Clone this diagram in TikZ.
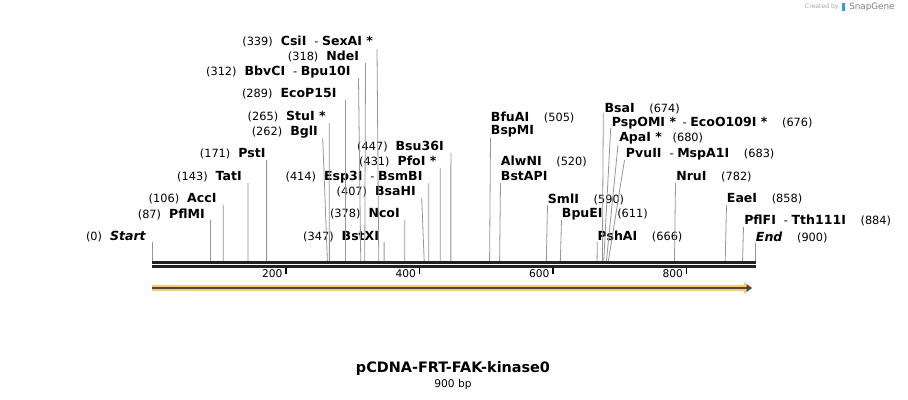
\documentclass[tikz,border=0pt]{standalone}
\usepackage{fontspec}
\setmainfont{DejaVu Sans}
\usepackage{tikz}
\usetikzlibrary{positioning}
\usetikzlibrary{arrows.meta}
\definecolor{cutgray}{RGB}{150,150,150}
\definecolor{axisblack}{RGB}{34,34,34}
\definecolor{featorange}{RGB}{248,202,120}
\definecolor{featdark}{RGB}{80,70,55}
\definecolor{sgblue}{RGB}{60,150,220}
\newcommand{\enzy}[1]{{\fontsize{9.4}{10}\selectfont\bfseries #1}}

\begin{document}
\begin{tikzpicture}
    [
    x=0.75pt, y=-0.75pt,
    enz/.style={inner sep=0pt, font=\fontsize{8.5}{10}\selectfont},
    cut/.style={draw=cutgray, line width=0.6pt},
    axis/.style={draw=axisblack, line width=2pt},
    tick/.style={draw=black, line width=1.2pt},
    ticklabel/.style={inner sep=0pt, anchor=east, font=\fontsize{8}{9}\selectfont}
    ]
    \useasboundingbox (0,0) rectangle (908,400);
    \fill [white] (0,0) rectangle (908,400);

    % enzymes written to the left of their cut
    \node (start) at (146,237) [enz, anchor=east] {(0)\hspace{6pt}\enzy{\itshape Start}};
    \node (pflMI) at (205,214) [enz, anchor=east] {(87)\hspace{6pt}\enzy{PflMI}};
    \node (accI) at (216.7,199) [enz, anchor=east] {(106)\hspace{6pt}\enzy{AccI}};
    \node (tatI) at (242,176.7) [enz, anchor=east] {(143)\hspace{6pt}\enzy{TatI}};
    \node (pstI) at (265.7,154) [enz, anchor=east] {(171)\hspace{6pt}\enzy{PstI}};
    \node (bglI) at (318,131.7) [enz, anchor=east] {(262)\hspace{6pt}\enzy{BglI}};
    \node (stuI) at (326,116.7) [enz, anchor=east] {(265)\hspace{6pt}\enzy{StuI *}};
    \node (ecoP15I) at (336.7,93.3) [enz, anchor=east] {(289)\hspace{6pt}\enzy{EcoP15I}};
    \node (bbvCI) at (350.7,71.7) [enz, anchor=east] {(312)\hspace{6pt}\enzy{BbvCI}\hspace{6pt}- \enzy{Bpu10I}};
    \node (ndeI) at (359.3,56) [enz, anchor=east] {(318)\hspace{6pt}\enzy{NdeI}};
    \node (csiI) at (373.3,41.7) [enz, anchor=east] {(339)\hspace{6pt}\enzy{CsiI}\hspace{6pt}- \enzy{SexAI *}};
    \node (bstXI) at (379.3,236.7) [enz, anchor=east] {(347)\hspace{6pt}\enzy{BstXI}};
    \node (ncoI) at (400,213.3) [enz, anchor=east] {(378)\hspace{6pt}\enzy{NcoI}};
    \node (bsaHI) at (416,191.7) [enz, anchor=east] {(407)\hspace{6pt}\enzy{BsaHI}};
    \node (esp3I) at (422.7,176.7) [enz, anchor=east] {(414)\hspace{6pt}\enzy{Esp3I}\hspace{6pt}- \enzy{BsmBI}};
    \node (pfoI) at (436.7,161.7) [enz, anchor=east] {(431)\hspace{6pt}\enzy{PfoI *}};
    \node (bsu36I) at (444,146.7) [enz, anchor=east] {(447)\hspace{6pt}\enzy{Bsu36I}};

    % enzymes written to the right of their cut
    \node (bfuAI) at (490.7,117.3) [enz, anchor=west] {\enzy{BfuAI}\hspace{11pt}(505)};
    \node (bspMI) at (490.7,131.7) [enz, anchor=west] {\enzy{BspMI}};
    \node (alwNI) at (500.7,161.7) [enz, anchor=west] {\enzy{AlwNI}\hspace{11pt}(520)};
    \node (bstAPI) at (500.7,176) [enz, anchor=west] {\enzy{BstAPI}};
    \node (smlI) at (547.7,199) [enz, anchor=west] {\enzy{SmlI}\hspace{11pt}(590)};
    \node (bpuEI) at (561.7,214) [enz, anchor=west] {\enzy{BpuEI}\hspace{11pt}(611)};
    \node (pshAI) at (597.3,236.7) [enz, anchor=west] {\enzy{PshAI}\hspace{11pt}(666)};
    \node (bsaI) at (604.3,108.3) [enz, anchor=west] {\enzy{BsaI}\hspace{11pt}(674)};
    \node (pspOMI) at (611.7,123.3) [enz, anchor=west] {\enzy{PspOMI *}\hspace{5pt}- \enzy{EcoO109I *}\hspace{11pt}(676)};
    \node (apaI) at (619,138.3) [enz, anchor=west] {\enzy{ApaI *}\hspace{8pt}(680)};
    \node (pvuII) at (625.7,154.3) [enz, anchor=west] {\enzy{PvuII}\hspace{6pt}- \enzy{MspA1I}\hspace{11pt}(683)};
    \node (nruI) at (676,176.7) [enz, anchor=west] {\enzy{NruI}\hspace{11pt}(782)};
    \node (eaeI) at (726.7,199) [enz, anchor=west] {\enzy{EaeI}\hspace{11pt}(858)};
    \node (pflFI) at (744,220.7) [enz, anchor=west] {\enzy{PflFI}\hspace{6pt}- \enzy{Tth111I}\hspace{11pt}(884)};
    \node (end) at (755.7,237.3) [enz, anchor=west] {\enzy{\itshape End}\hspace{11pt}(900)};

    % cut lines: top of line and cut site on the sequence
    \coordinate (start-top) at (152.5,242);   \coordinate (start-site) at ({152.5+0.6675*0},261);
    \coordinate (pflMI-top) at (210.6,220);   \coordinate (pflMI-site) at ({152.5+0.6675*87},261);
    \coordinate (accI-top) at (223.3,205);    \coordinate (accI-site) at ({152.5+0.6675*106},261);
    \coordinate (tatI-top) at (248,183);      \coordinate (tatI-site) at ({152.5+0.6675*143},261);
    \coordinate (pstI-top) at (266.6,160);    \coordinate (pstI-site) at ({152.5+0.6675*171},261);
    \coordinate (bglI-top) at (322.7,138);    \coordinate (bglI-site) at ({152.5+0.6675*262},261);
    \coordinate (stuI-top) at (329.2,123);    \coordinate (stuI-site) at ({152.5+0.6675*265},261);
    \coordinate (ecoP15I-top) at (345.4,100); \coordinate (ecoP15I-site) at ({152.5+0.6675*289},261);
    \coordinate (bbvCI-top) at (358.5,78);    \coordinate (bbvCI-site) at ({152.5+0.6675*312},261);
    \coordinate (ndeI-top) at (365.5,63);     \coordinate (ndeI-site) at ({152.5+0.6675*318},261);
    \coordinate (csiI-top) at (377,49);       \coordinate (csiI-site) at ({152.5+0.6675*339},261);
    \coordinate (bstXI-top) at (384.1,242);   \coordinate (bstXI-site) at ({152.5+0.6675*347},261);
    \coordinate (ncoI-top) at (404.8,220);    \coordinate (ncoI-site) at ({152.5+0.6675*378},261);
    \coordinate (bsaHI-top) at (421.7,198);   \coordinate (bsaHI-site) at ({152.5+0.6675*407},261);
    \coordinate (esp3I-top) at (428.8,183);   \coordinate (esp3I-site) at ({152.5+0.6675*414},261);
    \coordinate (pfoI-top) at (440.2,168);    \coordinate (pfoI-site) at ({152.5+0.6675*431},261);
    \coordinate (bsu36I-top) at (450.9,153);  \coordinate (bsu36I-site) at ({152.5+0.6675*447},261);
    \coordinate (bfuAI-top) at (490.5,138);   \coordinate (bfuAI-site) at ({152.5+0.6675*505},261);
    \coordinate (alwNI-top) at (500.5,183);   \coordinate (alwNI-site) at ({152.5+0.6675*520},261);
    \coordinate (smlI-top) at (547.5,205);    \coordinate (smlI-site) at ({152.5+0.6675*590},261);
    \coordinate (bpuEI-top) at (561.5,220);   \coordinate (bpuEI-site) at ({152.5+0.6675*611},261);
    \coordinate (pshAI-top) at (597.3,242);   \coordinate (pshAI-site) at ({152.5+0.6675*666},261);
    \coordinate (bsaI-top) at (603.3,113);    \coordinate (bsaI-site) at ({152.5+0.6675*674},261);
    \coordinate (pspOMI-top) at (610.7,128);  \coordinate (pspOMI-site) at ({152.5+0.6675*676},261);
    \coordinate (apaI-top) at (618,145);      \coordinate (apaI-site) at ({152.5+0.6675*680},261);
    \coordinate (pvuII-top) at (624.5,160);   \coordinate (pvuII-site) at ({152.5+0.6675*683},261);
    \coordinate (nruI-top) at (675.5,183);    \coordinate (nruI-site) at ({152.5+0.6675*782},261);
    \coordinate (eaeI-top) at (726.5,205);    \coordinate (eaeI-site) at ({152.5+0.6675*858},261);
    \coordinate (pflFI-top) at (743.5,227);   \coordinate (pflFI-site) at ({152.5+0.6675*884},261);
    \coordinate (end-top) at (755,243);       \coordinate (end-site) at (755,261);

    \draw [cut] (start-top) to (start-site);
    \draw [cut] (pflMI-top) to (pflMI-site);
    \draw [cut] (accI-top) to (accI-site);
    \draw [cut] (tatI-top) to (tatI-site);
    \draw [cut] (pstI-top) to (pstI-site);
    \draw [cut] (bglI-top) to (bglI-site);
    \draw [cut] (stuI-top) to (stuI-site);
    \draw [cut] (ecoP15I-top) to (ecoP15I-site);
    \draw [cut] (bbvCI-top) to (bbvCI-site);
    \draw [cut] (ndeI-top) to (ndeI-site);
    \draw [cut] (csiI-top) to (csiI-site);
    \draw [cut] (bstXI-top) to (bstXI-site);
    \draw [cut] (ncoI-top) to (ncoI-site);
    \draw [cut] (bsaHI-top) to (bsaHI-site);
    \draw [cut] (esp3I-top) to (esp3I-site);
    \draw [cut] (pfoI-top) to (pfoI-site);
    \draw [cut] (bsu36I-top) to (bsu36I-site);
    \draw [cut] (bfuAI-top) to (bfuAI-site);
    \draw [cut] (alwNI-top) to (alwNI-site);
    \draw [cut] (smlI-top) to (smlI-site);
    \draw [cut] (bpuEI-top) to (bpuEI-site);
    \draw [cut] (pshAI-top) to (pshAI-site);
    \draw [cut] (bsaI-top) to (bsaI-site);
    \draw [cut] (pspOMI-top) to (pspOMI-site);
    \draw [cut] (apaI-top) to (apaI-site);
    \draw [cut] (pvuII-top) to (pvuII-site);
    \draw [cut] (nruI-top) to (nruI-site);
    \draw [cut] (eaeI-top) to (eaeI-site);
    \draw [cut] (pflFI-top) to (pflFI-site);
    \draw [cut] (end-top) to (end-site);

    % double strand
    \coordinate (seqL) at (152,262.4);  \coordinate (seqR) at (755.5,262.4);
    \coordinate (seqL2) at (152,266.4); \coordinate (seqR2) at (755.5,266.4);
    \draw [axis] (seqL) to (seqR);
    \draw [axis] (seqL2) to (seqR2);

    % ruler
    \coordinate (k200) at ({152.5+0.6675*200},267.5); \coordinate (k200b) at ({152.5+0.6675*200},273.5);
    \coordinate (k400) at ({152.5+0.6675*400},267.5); \coordinate (k400b) at ({152.5+0.6675*400},273.5);
    \coordinate (k600) at ({152.5+0.6675*600},267.5); \coordinate (k600b) at ({152.5+0.6675*600},273.5);
    \coordinate (k800) at ({152.5+0.6675*800},267.5); \coordinate (k800b) at ({152.5+0.6675*800},273.5);
    \draw [tick] (k200) to (k200b);
    \draw [tick] (k400) to (k400b);
    \draw [tick] (k600) to (k600b);
    \draw [tick] (k800) to (k800b);
    \node (l200) [ticklabel, below left=1pt and 2.5pt of k200] {200};
    \node (l400) [ticklabel, below left=1pt and 2.5pt of k400] {400};
    \node (l600) [ticklabel, below left=1pt and 2.5pt of k600] {600};
    \node (l800) [ticklabel, below left=1pt and 2.5pt of k800] {800};

    % feature
    \coordinate (featL) at (152,288);
    \coordinate (featR) at (752,288);
    \draw [featorange, line width=4.4pt, -{Triangle[length=6pt,width=8.5pt]}] (featL) to (featR);
    \draw [featdark, line width=1.5pt, -{Triangle[length=4pt,width=5.5pt]}] (featL) to (featR);

    % title
    \node (title) at (453,369) [inner sep=0pt, font=\fontsize{10.8}{12}\selectfont\bfseries] {pCDNA-FRT-FAK-kinase0};
    \node (length) [below=2pt of title, inner sep=0pt, font=\fontsize{8}{9}\selectfont] {900 bp};

    % credit
    \node (credit) at (839,7) [anchor=east, inner sep=0pt, text=black!35, font=\fontsize{4.6}{5}\selectfont] {Created by};
    \fill [sgblue] (842,3) rectangle (845,11);
    \node (snapgene) at (849,7) [anchor=west, inner sep=0pt, text=black!50, font=\fontsize{6.6}{7}\selectfont] {SnapGene};
\end{tikzpicture}
\end{document}
